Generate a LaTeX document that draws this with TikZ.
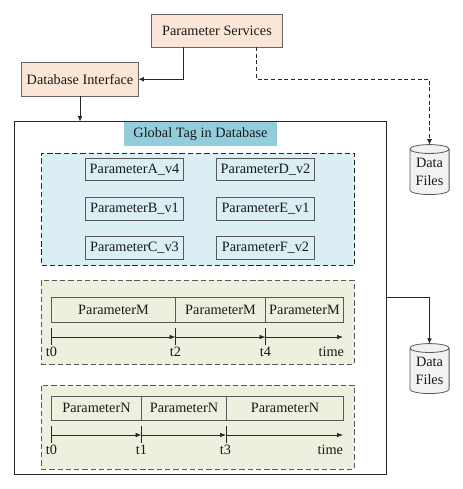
\documentclass[tikz,border=0pt]{standalone}
\usepackage{fontspec}
\setmainfont{Liberation Serif}
\usetikzlibrary{shapes.geometric,arrows.meta,calc}
\definecolor{peach}{HTML}{FBE5D6}
\definecolor{tagblue}{HTML}{92CDDC}
\definecolor{paleblue}{HTML}{DAEEF3}
\definecolor{palegreen}{HTML}{EBF1DE}
\definecolor{cyl}{HTML}{F2F2F2}
\definecolor{edge}{HTML}{595959}
\tikzset{
  txt/.style={font=\fontsize{10.7pt}{12pt}\selectfont,text=black!90,inner sep=0pt,outer sep=0pt},
  service/.style={txt,draw=edge!70!gray,fill=peach,line width=0.75pt},
  outerbox/.style={txt,draw=black!85,fill=white,line width=0.75pt},
  tagbox/.style={txt,fill=tagblue},
  groupblue/.style={txt,draw=black!85,fill=paleblue,dash pattern=on 4pt off 2.2pt,line width=0.75pt},
  groupgreen/.style={txt,draw=edge,fill=palegreen,dash pattern=on 4pt off 2.2pt,line width=0.75pt},
  parambox/.style={txt,draw=edge,line width=0.55pt},
  cellbox/.style={txt,draw=edge,line width=0.55pt},
  store/.style={txt,draw=edge,fill=cyl,cylinder,shape border rotate=90,aspect=0.32,align=center,line width=0.6pt,
    minimum width=29.4pt,minimum height=37.5pt},
  link/.style={draw=black!85,line width=0.6pt,-{Latex[length=4pt,width=3.6pt]}},
  dashlink/.style={link,dash pattern=on 3pt off 2pt},
  axisline/.style={draw=black!85,line width=0.5pt,-{Latex[length=4.5pt,width=3.4pt]}},
  tickline/.style={draw=black!85,line width=0.5pt},
  ticklabel/.style={txt,anchor=center},
}
% name, x1, y1, x2, y2, style, text (all in reference pixels)
\newcommand{\pxbox}[7]{\node[#6,minimum width={(#4-#2)*0.75pt},minimum height={(#5-#3)*0.75pt}] (#1) at ({(#2+#4)/2},{(#3+#5)/2}) {#7};}
\begin{document}
\begin{tikzpicture}[x=0.75pt,y=-0.75pt]
\path[use as bounding box] (0,0) rectangle (463,489);
\pxbox{ps}{151.5}{14}{282.5}{47}{service}{Parameter Services}
\pxbox{db}{21.5}{62.5}{138.5}{96}{service}{Database Interface}
\pxbox{outer}{14.5}{121.5}{386.5}{474}{outerbox}{}
\pxbox{tag}{124}{121.5}{277}{146}{tagbox}{Global Tag in Database}
\pxbox{gblue}{41.5}{153}{354.5}{265.5}{groupblue}{}
\pxbox{pa}{85.5}{158}{183.5}{180.5}{parambox}{ParameterA\_v4}
\pxbox{pb}{85.5}{197.5}{183.5}{220}{parambox}{ParameterB\_v1}
\pxbox{pc}{85.5}{236.5}{183.5}{259}{parambox}{ParameterC\_v3}
\pxbox{pd}{216.5}{158}{314.5}{180.5}{parambox}{ParameterD\_v2}
\pxbox{pe}{216.5}{197.5}{314.5}{220}{parambox}{ParameterE\_v1}
\pxbox{pf}{216.5}{236.5}{314.5}{259}{parambox}{ParameterF\_v2}
\pxbox{gm}{41}{280}{354}{364.5}{groupgreen}{}
\pxbox{m1}{51.5}{297.5}{175.5}{322}{cellbox}{ParameterM}
\pxbox{m2}{175.5}{297.5}{265.5}{322}{cellbox}{ParameterM}
\pxbox{m3}{265.5}{297.5}{343.5}{322}{cellbox}{ParameterM}
\pxbox{gn}{41}{385}{354}{469}{groupgreen}{}
\pxbox{n1}{51.5}{396}{141.5}{420.5}{cellbox}{ParameterN}
\pxbox{n2}{141.5}{396}{226.5}{420.5}{cellbox}{ParameterN}
\pxbox{n3}{226.5}{396}{343.5}{420.5}{cellbox}{ParameterN}
\node[store] (f1) at (429.5,172) {Data\\[1pt]Files};
\node[store] (f2) at (429.5,371) {Data\\[1pt]Files};
% connectors
\draw[link] ($(ps.south west)+(32,0)$) |- (db.east);
\draw[dashlink] ($(ps.south west)+(105,0)$) |- ($(db.east)+(150,0)$) -| (f1.top);
\draw[link] (db.south) -- (db.south |- outer.north);
\draw[link] (outer.east |- m1.north) -| (f2.top);
% timeline M
\coordinate (mt0) at (51.5,337); \coordinate (mt2) at (175.5,337); \coordinate (mt4) at (265.5,337); \coordinate (mend) at (343,337);
\foreach \c in {mt0,mt2,mt4} \draw[tickline] ($(\c)+(0,-9)$) -- ($(\c)+(0,8)$);
\draw[axisline] (mt0) -- (mt2);
\draw[axisline] (mt2) -- (mt4);
\draw[axisline] (mt4) -- (mend);
\node[ticklabel] (lm0) at (51.5,351.5) {t0};
\node[ticklabel] (lm2) at (175.5,351.5) {t2};
\node[ticklabel] (lm4) at (265.5,351.5) {t4};
\node[ticklabel,anchor=east] (lmt) at (344,351.5) {time};
% timeline N
\coordinate (nt0) at (51.5,435); \coordinate (nt1) at (141.5,435); \coordinate (nt3) at (226,435); \coordinate (nend) at (343,435);
\foreach \c in {nt0,nt1,nt3} \draw[tickline] ($(\c)+(0,-9)$) -- ($(\c)+(0,8)$);
\draw[axisline] (nt0) -- (nt1);
\draw[axisline] (nt1) -- (nt3);
\draw[axisline] (nt3) -- (nend);
\node[ticklabel] (ln0) at (51.5,449.5) {t0};
\node[ticklabel] (ln1) at (141.5,449.5) {t1};
\node[ticklabel] (ln3) at (225.5,449.5) {t3};
\node[ticklabel,anchor=east] (lnt) at (343,449.5) {time};
\end{tikzpicture}
\end{document}
